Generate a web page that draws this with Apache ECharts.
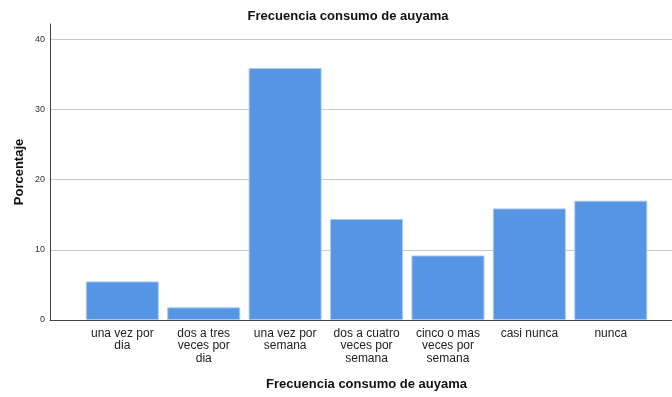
<!DOCTYPE html>
<html>
<head>
<meta charset="utf-8">
<script src="https://cdn.jsdelivr.net/npm/echarts@6/dist/echarts.min.js"></script>
<style>html,body{margin:0;padding:0;background:#fff;}#c{width:672px;height:397px;}</style>
</head>
<body>
<div id="c"></div>
<script>
const categories = ["una vez por\ndia", "dos a tres\nveces por\ndia", "una vez por\nsemana", "dos a cuatro\nveces por\nsemana", "cinco o mas\nveces por\nsemana", "casi nunca", "nunca"];
const values = [5.5, 1.8, 35.9, 14.4, 9.2, 15.9, 17.0];
const yTicks = [0, 10, 20, 30, 40];

const font = "'Liberation Sans', Arial, sans-serif";
const chart = echarts.init(document.getElementById('c'), null, {renderer: 'canvas'});
chart.setOption({
  animation: false,
  backgroundColor: '#fff',
  title: {
    text: 'Frecuencia consumo de auyama',
    left: 343, top: 5, textAlign: 'center',
    textStyle: {fontFamily: font, fontSize: 13, fontWeight: 'bold', color: '#111'}
  },
  grid: [
    {left: 50, right: 0, top: 24, bottom: 77},
    {left: 50, right: 0, top: 39.3, bottom: 77},
    {left: 81.6, right: 20.5, top: 39.3, bottom: 77}
  ],
  xAxis: [
    {gridIndex: 0, type: 'value', min: 0, max: 1, show: true,
     axisLine: {show: true, lineStyle: {color: '#444', width: 1}}, axisTick: {show: false}, axisLabel: {show: false}, splitLine: {show: false}, z: 5},
    {gridIndex: 1, type: 'value', min: 0, max: 1, show: false},
    {gridIndex: 2, type: 'category', data: categories,
     axisLine: {show: false}, axisTick: {show: false},
     axisLabel: {interval: 0, margin: 7, fontFamily: font, fontSize: 12, lineHeight: 12.7, color: '#222'},
     name: 'Frecuencia consumo de auyama', nameLocation: 'middle', nameGap: 58,
     nameTextStyle: {fontFamily: font, fontSize: 13, fontWeight: 'bold', color: '#111'}}
  ],
  yAxis: [
    {gridIndex: 0, type: 'value', min: 0, max: 42.2,
     axisLine: {show: true, lineStyle: {color: '#444', width: 1}}, axisTick: {show: false}, axisLabel: {show: false}, splitLine: {show: false}, z: 5,
     name: 'Porcentaje', nameLocation: 'middle', nameGap: 24, nameRotate: 90,
     nameTextStyle: {fontFamily: font, fontSize: 13, fontWeight: 'bold', color: '#111'}},
    {gridIndex: 1, type: 'value', min: yTicks[0], max: yTicks[yTicks.length - 1], interval: 10,
     axisLine: {show: false}, axisTick: {show: false},
     axisLabel: {margin: 5, fontFamily: font, fontSize: 9, color: '#333'},
     splitLine: {show: true, lineStyle: {color: '#c8c8c8', width: 1}}},
    {gridIndex: 2, type: 'value', min: 0, max: 40, show: false}
  ],
  series: [{
    type: 'bar', xAxisIndex: 2, yAxisIndex: 2, data: values, barWidth: 73,
    itemStyle: {color: '#5595e3', borderColor: '#a9c9f1', borderWidth: 1},
    z: 3
  }]
});
</script>
</body>
</html>
